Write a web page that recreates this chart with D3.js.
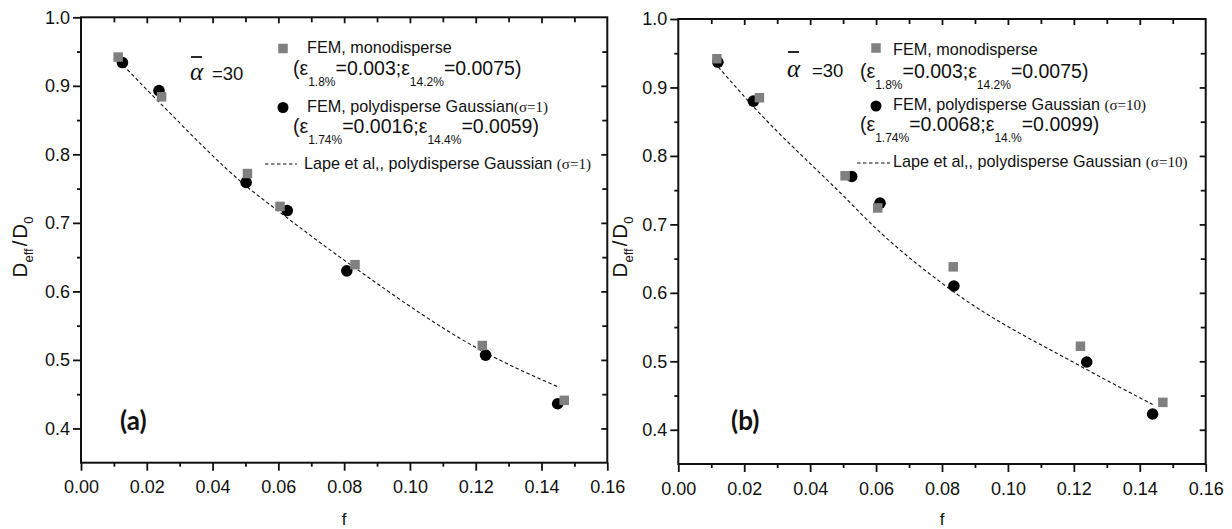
<!DOCTYPE html>
<html>
<head>
<meta charset="utf-8">
<script src="https://cdn.jsdelivr.net/npm/d3@7"></script>
<style>
  html, body { margin: 0; padding: 0; background: #fff; }
  svg { display: block; }
</style>
</head>
<body>
<svg id="chart" width="1232" height="529"></svg>
<script>
// ---- axis ticks ----
const xTicks = [0, 0.02, 0.04, 0.06, 0.08, 0.10, 0.12, 0.14, 0.16];
const xTickLabels = ["0.00", "0.02", "0.04", "0.06", "0.08", "0.10", "0.12", "0.14", "0.16"];
const xMinorTicks = [0.01, 0.03, 0.05, 0.07, 0.09, 0.11, 0.13, 0.15];
const yTicks = [0.4, 0.5, 0.6, 0.7, 0.8, 0.9, 1.0];
const yTickLabels = ["0.4", "0.5", "0.6", "0.7", "0.8", "0.9", "1.0"];
const yMinorTicks = [0.45, 0.55, 0.65, 0.75, 0.85, 0.95];

// ---- panel (a): sigma = 1 ----
const fMonoA = [0.0113, 0.0245, 0.0506, 0.0605, 0.0833, 0.1220, 0.1469];
const dMonoA = [0.942, 0.884, 0.772, 0.724, 0.639, 0.521, 0.441];
const fPolyA = [0.0126, 0.0237, 0.0502, 0.0627, 0.0808, 0.1230, 0.1449];
const dPolyA = [0.934, 0.893, 0.759, 0.718, 0.630, 0.507, 0.436];
const fLapeA = [0.0128, 0.0240, 0.0504, 0.0595, 0.0828, 0.1220, 0.1449];
const dLapeA = [0.930, 0.875, 0.753, 0.719, 0.636, 0.513, 0.461];

// ---- panel (b): sigma = 10 ----
const fMonoB = [0.0117, 0.0246, 0.0506, 0.0605, 0.0834, 0.1220, 0.1470];
const dMonoB = [0.942, 0.885, 0.771, 0.724, 0.638, 0.522, 0.440];
const fPolyB = [0.0120, 0.0228, 0.0526, 0.0612, 0.0836, 0.1239, 0.1439];
const dPolyB = [0.937, 0.880, 0.770, 0.731, 0.610, 0.499, 0.423];
const fLapeB = [0.0121, 0.0228, 0.0500, 0.0600, 0.0834, 0.1220, 0.1439];
const dLapeB = [0.930, 0.872, 0.742, 0.694, 0.602, 0.493, 0.437];

const SANS = "'Liberation Sans', Arial, Helvetica, sans-serif";
const SERIF = "'Liberation Serif', 'Times New Roman', serif";
const INK = "#111";
const GREY = "#808080";

const svg = d3.select("#chart");

// text with sub-scripted and serif runs
function richText(g, x, y, parts, size) {
  const t = g.append("text")
    .attr("x", x).attr("y", y)
    .attr("font-family", SANS).attr("font-size", size).attr("fill", INK);
  let shift = 0;
  parts.forEach(p => {
    const s = t.append("tspan").text(p.t);
    const target = p.sub ? (p.shift || 11) : 0;
    s.attr("dy", target - shift);
    shift = target;
    if (p.sub) s.attr("font-size", p.size || 12);
    else if (p.size) s.attr("font-size", p.size);
    if (p.serif) s.attr("font-family", SERIF);
    if (p.dx) s.attr("dx", p.dx);
  });
  return t;
}

function zip(a, b) { return a.map((v, i) => [v, b[i]]); }

const panels = [
  {
    box: { left: 81, right: 607.3, top: 17.3, bottom: 462.7 },
    mono: zip(fMonoA, dMonoA), poly: zip(fPolyA, dPolyA), lape: zip(fLapeA, dLapeA),
    tag: "(a)", tagX: 120,
    alpha: { x: 190, y: 80, barY: 57, eqX: 212 },
    yTitleX: 27, fX: 344,
    legend: {
      markerX: 283, squareY: 48.5, circleY: 107.5, dashY: 164, dashX0: 265, dashX1: 297,
      rows: [
        { x: 307, y: 53, size: 16.2, parts: [{ t: "FEM, monodisperse" }] },
        { x: 293, y: 75, size: 19.5, parts: [{ t: "(ε" }, { t: "1.8%", sub: true }, { t: "=0.003;ε" }, { t: "14.2%", sub: true }, { t: "=0.0075)" }] },
        { x: 307, y: 112, size: 16.2, parts: [{ t: "FEM, polydisperse Gaussian" }, { t: "(σ=1)", serif: true, size: 15 }] },
        { x: 293, y: 133, size: 19.5, parts: [{ t: "(ε" }, { t: "1.74%", sub: true }, { t: "=0.0016;ε" }, { t: "14.4%", sub: true }, { t: "=0.0059)" }] },
        { x: 304, y: 169, size: 16.2, parts: [{ t: "Lape et al,, polydisperse Gaussian " }, { t: "(σ=1)", serif: true, size: 15 }] }
      ]
    }
  },
  {
    box: { left: 678.3, right: 1205.7, top: 19, bottom: 464 },
    mono: zip(fMonoB, dMonoB), poly: zip(fPolyB, dPolyB), lape: zip(fLapeB, dLapeB),
    tag: "(b)", tagX: 731,
    alpha: { x: 787, y: 77, barY: 52, eqX: 812 },
    yTitleX: 627, fX: 942,
    legend: {
      markerX: 876, squareY: 48, circleY: 106, dashY: 163, dashX0: 857, dashX1: 890,
      rows: [
        { x: 893, y: 55, size: 16.2, parts: [{ t: "FEM, monodisperse" }] },
        { x: 860, y: 78, size: 19.5, parts: [{ t: "(ε" }, { t: "1.8%", sub: true }, { t: "=0.003;ε" }, { t: "14.2%", sub: true }, { t: "=0.0075)" }] },
        { x: 893, y: 110, size: 16.2, parts: [{ t: "FEM, polydisperse Gaussian " }, { t: "(σ=10)", serif: true, size: 15 }] },
        { x: 860, y: 131, size: 19.5, parts: [{ t: "(ε" }, { t: "1.74%", sub: true }, { t: "=0.0068;ε" }, { t: "14.%", sub: true }, { t: "=0.0099)" }] },
        { x: 893, y: 167, size: 16.2, parts: [{ t: "Lape et al,, polydisperse Gaussian " }, { t: "(σ=10)", serif: true, size: 15 }] }
      ]
    }
  }
];

function styleAxis(g, showText) {
  g.select(".domain").remove();
  g.selectAll(".tick line").attr("stroke", INK).attr("stroke-width", 1.8);
  g.selectAll(".tick text")
    .attr("fill", INK)
    .attr("font-family", SANS)
    .attr("font-size", 18)
    .style("display", showText ? null : "none");
}

panels.forEach(p => {
  const b = p.box;
  const x = d3.scaleLinear().domain([0, 0.16]).range([b.left, b.right]);
  const y = d3.scaleLinear().domain([0.35, 1.0]).range([b.bottom, b.top]);
  const g = svg.append("g");

  // bottom axis: labelled major ticks + minor ticks, pointing out
  g.append("g").attr("transform", `translate(0,${b.bottom})`)
    .call(d3.axisBottom(x).tickValues(xTicks).tickFormat((d, i) => xTickLabels[i]).tickSize(8).tickPadding(10))
    .call(s => styleAxis(s, true));
  g.append("g").attr("transform", `translate(0,${b.bottom})`)
    .call(d3.axisBottom(x).tickValues(xMinorTicks).tickSize(4).tickFormat(""))
    .call(s => styleAxis(s, false));

  // top axis: ticks pointing in
  g.append("g").attr("transform", `translate(0,${b.top})`)
    .call(d3.axisTop(x).tickValues(xTicks.slice(1, -1)).tickSize(-6).tickFormat(""))
    .call(s => styleAxis(s, false));
  g.append("g").attr("transform", `translate(0,${b.top})`)
    .call(d3.axisTop(x).tickValues(xMinorTicks).tickSize(-5).tickFormat(""))
    .call(s => styleAxis(s, false));

  // left axis
  g.append("g").attr("transform", `translate(${b.left},0)`)
    .call(d3.axisLeft(y).tickValues(yTicks).tickFormat((d, i) => yTickLabels[i]).tickSize(8).tickPadding(3))
    .call(s => styleAxis(s, true));
  g.append("g").attr("transform", `translate(${b.left},0)`)
    .call(d3.axisLeft(y).tickValues(yMinorTicks).tickSize(4).tickFormat(""))
    .call(s => styleAxis(s, false));

  // right axis: ticks pointing in
  g.append("g").attr("transform", `translate(${b.right},0)`)
    .call(d3.axisRight(y).tickValues(yTicks.slice(0, -1)).tickSize(-6).tickFormat(""))
    .call(s => styleAxis(s, false));
  g.append("g").attr("transform", `translate(${b.right},0)`)
    .call(d3.axisRight(y).tickValues(yMinorTicks).tickSize(-5).tickFormat(""))
    .call(s => styleAxis(s, false));

  // frame
  g.append("rect")
    .attr("x", b.left).attr("y", b.top)
    .attr("width", b.right - b.left).attr("height", b.bottom - b.top)
    .attr("fill", "none").attr("stroke", INK).attr("stroke-width", 2);

  // Lape et al. curve
  const line = d3.line().x(d => x(d[0])).y(d => y(d[1])).curve(d3.curveMonotoneX);
  g.append("path").datum(p.lape)
    .attr("d", line)
    .attr("fill", "none").attr("stroke", INK).attr("stroke-width", 1.1)
    .attr("stroke-dasharray", "3.5,2.5");

  // polydisperse FEM points
  g.append("g").selectAll("circle").data(p.poly).join("circle")
    .attr("cx", d => x(d[0])).attr("cy", d => y(d[1])).attr("r", 5.8)
    .attr("fill", "#000");

  // monodisperse FEM points
  const sq = 9.5;
  g.append("g").selectAll("rect").data(p.mono).join("rect")
    .attr("x", d => x(d[0]) - sq / 2).attr("y", d => y(d[1]) - sq / 2)
    .attr("width", sq).attr("height", sq)
    .attr("fill", GREY);

  // legend
  const L = p.legend;
  g.append("rect")
    .attr("x", L.markerX - sq / 2).attr("y", L.squareY - sq / 2)
    .attr("width", sq).attr("height", sq).attr("fill", GREY);
  g.append("circle")
    .attr("cx", L.markerX).attr("cy", L.circleY).attr("r", 5.5).attr("fill", "#000");
  g.append("line")
    .attr("x1", L.dashX0).attr("x2", L.dashX1).attr("y1", L.dashY).attr("y2", L.dashY)
    .attr("stroke", INK).attr("stroke-width", 1.1).attr("stroke-dasharray", "3.5,2.5");
  L.rows.forEach(r => richText(g, r.x, r.y, r.parts, r.size));

  // mean aspect ratio annotation
  const A = p.alpha;
  g.append("text")
    .attr("x", A.x).attr("y", A.y)
    .attr("font-family", SERIF).attr("font-style", "italic").attr("font-size", 25)
    .attr("fill", INK).text("α");
  g.append("line")
    .attr("x1", A.x + 1).attr("x2", A.x + 12).attr("y1", A.barY).attr("y2", A.barY)
    .attr("stroke", INK).attr("stroke-width", 1.8);
  g.append("text")
    .attr("x", A.eqX).attr("y", A.y)
    .attr("font-family", SANS).attr("font-size", 18.5)
    .attr("fill", INK).text("=30");

  // panel tag
  g.append("text")
    .attr("x", p.tagX).attr("y", 430)
    .attr("font-family", "Lato, 'Open Sans', sans-serif").attr("font-weight", 700)
    .attr("font-size", 26).attr("fill", INK).text(p.tag);

  // y axis title
  const yt = g.append("text")
    .attr("transform", `translate(${p.yTitleX},247) rotate(-90)`)
    .attr("text-anchor", "middle")
    .attr("font-family", SANS).attr("font-size", 20.5).attr("fill", INK);
  yt.append("tspan").text("D");
  yt.append("tspan").attr("font-size", 13).attr("dy", 6).text("eff");
  yt.append("tspan").attr("dy", -6).attr("dx", 2).text("/");
  yt.append("tspan").attr("dx", 2).text("D");
  yt.append("tspan").attr("font-size", 13).attr("dy", 6).text("0");

  // x axis title
  g.append("text")
    .attr("x", p.fX).attr("y", 525)
    .attr("text-anchor", "middle")
    .attr("font-family", SANS).attr("font-size", 17).attr("fill", INK)
    .text("f");
});
</script>
</body>
</html>
